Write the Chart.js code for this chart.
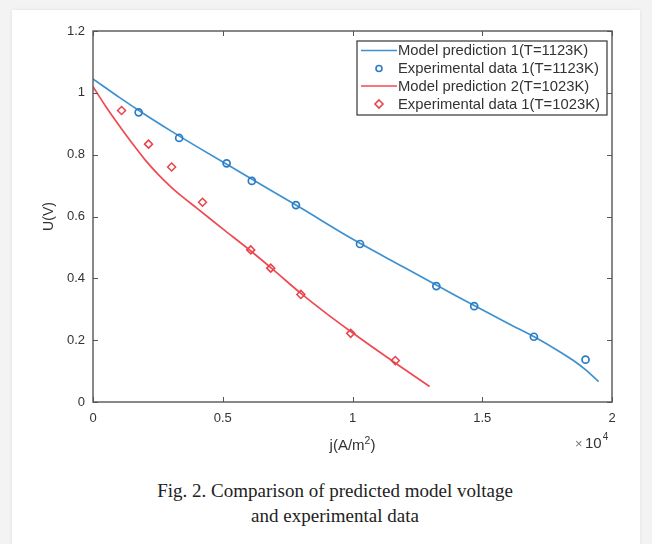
<!DOCTYPE html>
<html>
<head>
<meta charset="utf-8">
<script src="https://cdn.jsdelivr.net/npm/chart.js@4.4.1/dist/chart.umd.min.js"></script>
<style>
  html,body{margin:0;padding:0;}
  body{width:652px;height:544px;background:#f3f3f3;position:relative;overflow:hidden;}
  #card{position:absolute;left:12px;top:10px;width:628px;height:540px;background:#fff;box-shadow:0 0 4px rgba(0,0,0,0.08);}
  #wrap{position:absolute;left:0;top:0;width:652px;height:460px;}
  #cap{position:absolute;left:0;top:478px;width:670px;text-align:center;font-family:"Liberation Serif","Times New Roman",serif;font-size:19px;line-height:25px;color:#222;}
</style>
</head>
<body>
<div id="card"></div>
<div id="wrap"><canvas id="c" width="652" height="460"></canvas></div>
<div id="cap">Fig. 2. Comparison of predicted model voltage<br>and experimental data</div>
<script>
// ---- data (j in A/m^2, U in V) ----
const blueModelX = [0, 1000, 2000, 3000, 4000, 6000, 8000, 10000, 12000, 14000, 16000, 17000, 18000, 18500, 19000, 19480];
const blueModelY = [1.045, 0.986, 0.930, 0.877, 0.826, 0.727, 0.628, 0.527, 0.435, 0.343, 0.254, 0.211, 0.162, 0.135, 0.103, 0.066];
const blueExpX = [1760, 3320, 5150, 6120, 7820, 10290, 13230, 14690, 16990, 18980];
const blueExpY = [0.937, 0.854, 0.772, 0.715, 0.637, 0.511, 0.375, 0.310, 0.211, 0.137];
const redModelX = [0, 500, 1000, 1500, 2000, 2500, 3000, 3500, 4000, 5000, 6000, 7000, 8000, 9000, 10000, 11000, 12000, 12970];
const redModelY = [1.02, 0.955, 0.895, 0.838, 0.784, 0.737, 0.696, 0.660, 0.627, 0.560, 0.494, 0.424, 0.352, 0.286, 0.224, 0.164, 0.106, 0.050];
const redExpX = [1100, 2140, 3030, 4220, 6080, 6850, 8010, 9930, 11650];
const redExpY = [0.943, 0.834, 0.760, 0.646, 0.492, 0.433, 0.348, 0.222, 0.134];
const xTickValues = [0, 5000, 10000, 15000, 20000];
const xTickLabels = ['0', '0.5', '1', '1.5', '2'];
const yTickLabels = ['0', '0.2', '0.4', '0.6', '0.8', '1', '1.2'];
const legendLabels = ['Model prediction 1(T=1123K)', 'Experimental data 1(T=1123K)', 'Model prediction 2(T=1023K)', 'Experimental data 1(T=1023K)'];

const BLUE_LINE = '#3d91d1', BLUE_PT = '#2a7cc4', RED_LINE = '#ef4a52', RED_PT = '#e8424a';
const FONT = '"Liberation Sans", Arial, sans-serif';
const toPts = (xs, ys) => xs.map((x, i) => ({x: x, y: ys[i]}));

const frame = {
  id: 'frame',
  afterDraw(chart) {
    const {ctx, chartArea: a, scales: {x, y}} = chart;
    ctx.save();
    ctx.strokeStyle = '#555';
    ctx.lineWidth = 1.4;
    ctx.strokeRect(a.left, a.top, a.right - a.left, a.bottom - a.top);
    ctx.lineWidth = 1;
    ctx.beginPath();
    x.ticks.forEach(t => {
      const p = Math.round(x.getPixelForValue(t.value)) + 0.5;
      ctx.moveTo(p, a.bottom); ctx.lineTo(p, a.bottom - 5);
      ctx.moveTo(p, a.top); ctx.lineTo(p, a.top + 5);
    });
    y.ticks.forEach(t => {
      const p = Math.round(y.getPixelForValue(t.value)) + 0.5;
      ctx.moveTo(a.left, p); ctx.lineTo(a.left + 5, p);
      ctx.moveTo(a.right, p); ctx.lineTo(a.right - 5, p);
    });
    ctx.stroke();

    ctx.textBaseline = 'alphabetic';
    ctx.textAlign = 'left';
    // x-axis title with superscript
    const cx = (a.left + a.right) / 2, base = a.bottom + 48;
    ctx.font = '15px ' + FONT;
    const w1 = ctx.measureText('j(A/m').width, w3 = ctx.measureText(')').width;
    ctx.font = '10.5px ' + FONT;
    const w2 = ctx.measureText('2').width;
    let sx = cx - (w1 + w2 + w3) / 2;
    ctx.fillStyle = '#333';
    ctx.font = '15px ' + FONT; ctx.fillText('j(A/m', sx, base);
    ctx.font = '10.5px ' + FONT; ctx.fillText('2', sx + w1, base - 6);
    ctx.font = '15px ' + FONT; ctx.fillText(')', sx + w1 + w2, base);

    // exponent label
    ctx.fillStyle = '#777';
    ctx.font = '13px ' + FONT;
    ctx.fillText('\u00d7', a.right - 37, a.bottom + 46);
    ctx.fillStyle = '#333';
    ctx.font = '15px ' + FONT;
    const tx = a.right - 27;
    ctx.fillText('10', tx, a.bottom + 46);
    const tw = ctx.measureText('10').width;
    ctx.font = '10px ' + FONT;
    ctx.fillText('4', tx + tw + 1, a.bottom + 38);

    // legend
    const lx = 357, ly = 41, lw = 250, lh = 74;
    ctx.fillStyle = '#fff';
    ctx.fillRect(lx, ly, lw, lh);
    ctx.strokeStyle = '#444';
    ctx.lineWidth = 1.3;
    ctx.strokeRect(lx, ly, lw, lh);
    ctx.font = '14.8px ' + FONT;
    ctx.textBaseline = 'middle';
    const rows = [50.5, 68.5, 86, 104];
    legendLabels.forEach((lab, i) => {
      const cy = rows[i];
      if (i === 0 || i === 2) {
        ctx.strokeStyle = i === 0 ? BLUE_LINE : RED_LINE;
        ctx.lineWidth = 1.6;
        ctx.beginPath(); ctx.moveTo(361, cy); ctx.lineTo(397, cy); ctx.stroke();
      } else if (i === 1) {
        ctx.strokeStyle = BLUE_PT; ctx.lineWidth = 1.6;
        ctx.beginPath(); ctx.arc(379, cy, 3, 0, Math.PI * 2); ctx.stroke();
      } else {
        ctx.strokeStyle = RED_PT; ctx.lineWidth = 1.6;
        ctx.beginPath(); ctx.moveTo(379, cy - 4); ctx.lineTo(383, cy); ctx.lineTo(379, cy + 4); ctx.lineTo(375, cy); ctx.closePath(); ctx.stroke();
      }
      ctx.fillStyle = '#333';
      ctx.fillText(lab, 398, cy + 0.5);
    });
    ctx.restore();
  }
};

new Chart(document.getElementById('c'), {
  type: 'scatter',
  data: {
    datasets: [
      {label: legendLabels[1], data: toPts(blueExpX, blueExpY), pointStyle: 'circle', pointRadius: 3.5, borderColor: BLUE_PT, backgroundColor: 'rgba(0,0,0,0)', borderWidth: 1.7, order: 1},
      {label: legendLabels[3], data: toPts(redExpX, redExpY), pointStyle: 'rectRot', pointRadius: 4, borderColor: RED_PT, backgroundColor: 'rgba(0,0,0,0)', borderWidth: 1.5, order: 1},
      {label: legendLabels[0], data: toPts(blueModelX, blueModelY), showLine: true, pointRadius: 0, borderColor: BLUE_LINE, borderWidth: 1.7, cubicInterpolationMode: 'monotone', order: 2},
      {label: legendLabels[2], data: toPts(redModelX, redModelY), showLine: true, pointRadius: 0, borderColor: RED_LINE, borderWidth: 1.7, cubicInterpolationMode: 'monotone', order: 2}
    ]
  },
  options: {
    responsive: false,
    animation: false,
    devicePixelRatio: 1,
    layout: {padding: {left: 41, right: 40, top: 31, bottom: 0}},
    plugins: {legend: {display: false}, tooltip: {enabled: false}},
    scales: {
      x: {
        type: 'linear', min: 0, max: 20000,
        afterBuildTicks: s => { s.ticks = xTickValues.map(v => ({value: v})); },
        afterFit: s => { s.height = 58; },
        grid: {display: false, drawTicks: false},
        border: {display: false},
        ticks: {padding: 9, color: '#333', font: {family: FONT, size: 13}, maxRotation: 0,
          callback: (v) => xTickLabels[xTickValues.indexOf(v)]},
        title: {display: false}
      },
      y: {
        type: 'linear', min: 0, max: 1.2,
        ticks: {stepSize: 0.2, padding: 8, color: '#333', font: {family: FONT, size: 13},
          callback: (v) => yTickLabels[Math.round(v / 0.2)]},
        afterFit: s => { s.width = 52; },
        grid: {display: false, drawTicks: false},
        border: {display: false},
        title: {display: true, text: 'U(V)', color: '#333', font: {family: FONT, size: 14}, padding: {top: 0, bottom: 0}}
      }
    }
  },
  plugins: [frame]
});
</script>
</body>
</html>
